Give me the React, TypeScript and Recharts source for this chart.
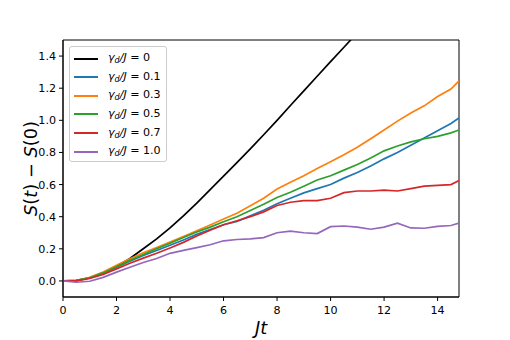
import React from "react";
import { LineChart, Line, XAxis, YAxis, ReferenceArea, Label } from "recharts";

const times = [0, 0.5, 1, 1.5, 2, 2.5, 3, 3.5, 4, 4.5, 5, 5.5, 6, 6.5, 7, 7.5, 8, 8.5, 9, 9.5, 10, 10.5, 11, 11.5, 12, 12.5, 13, 13.5, 14, 14.5, 14.8];

const gamma0 = [0, 0.003, 0.02, 0.05, 0.09, 0.14, 0.2, 0.262, 0.33, 0.405, 0.485, 0.568, 0.652, 0.737, 0.822, 0.91, 1.0, 1.092, 1.183, 1.274, 1.365, 1.455, 1.545, 1.635, null, null, null, null, null, null, null];
const gamma01 = [0, 0.002, 0.018, 0.048, 0.085, 0.122, 0.158, 0.19, 0.222, 0.255, 0.29, 0.32, 0.35, 0.37, 0.405, 0.44, 0.48, 0.515, 0.548, 0.575, 0.6, 0.64, 0.675, 0.715, 0.76, 0.8, 0.845, 0.89, 0.935, 0.98, 1.015];
const gamma03 = [0, 0.002, 0.022, 0.055, 0.098, 0.138, 0.175, 0.208, 0.242, 0.276, 0.312, 0.348, 0.385, 0.422, 0.468, 0.515, 0.572, 0.615, 0.655, 0.7, 0.742, 0.785, 0.832, 0.885, 0.94, 0.995, 1.045, 1.09, 1.148, 1.195, 1.245];
const gamma05 = [0, 0.002, 0.02, 0.05, 0.088, 0.128, 0.165, 0.2, 0.235, 0.27, 0.305, 0.335, 0.368, 0.4, 0.438, 0.478, 0.52, 0.552, 0.59, 0.628, 0.655, 0.69, 0.725, 0.765, 0.81, 0.84, 0.866, 0.885, 0.9, 0.922, 0.94];
const gamma07 = [0, 0.0, 0.015, 0.04, 0.075, 0.11, 0.142, 0.172, 0.205, 0.24, 0.28, 0.315, 0.35, 0.375, 0.4, 0.43, 0.47, 0.49, 0.5, 0.5, 0.515, 0.55, 0.56, 0.56, 0.565, 0.56, 0.575, 0.59, 0.595, 0.6, 0.625];
const gamma10 = [0, -0.008, -0.002, 0.022, 0.055, 0.085, 0.115, 0.14, 0.172, 0.19, 0.207, 0.225, 0.25, 0.258, 0.262, 0.27, 0.3, 0.31, 0.3, 0.295, 0.338, 0.342, 0.335, 0.322, 0.335, 0.36, 0.33, 0.328, 0.34, 0.345, 0.36];

const xTicks = [0, 2, 4, 6, 8, 10, 12, 14];
const yTicks = [0, 0.2, 0.4, 0.6, 0.8, 1.0, 1.2, 1.4];

const seriesKeys = ["g0", "g01", "g03", "g05", "g07", "g10"];
const seriesValues = [gamma0, gamma01, gamma03, gamma05, gamma07, gamma10];
const seriesLabels = ["0", "0.1", "0.3", "0.5", "0.7", "1.0"];
const seriesColors = ["#000000", "#1f77b4", "#ff7f0e", "#2ca02c", "#d62728", "#9467bd"];

const rows = times.map((t, i) => {
  const r: any = { t };
  seriesKeys.forEach((k, j) => {
    r[k] = seriesValues[j][i];
  });
  return r;
});

const FONT = "DejaVu Sans";

function LegendBox() {
  return (
    <div
      style={{
        position: "absolute",
        left: 69,
        top: 46,
        width: 98,
        height: 116,
        border: "1px solid #cccccc",
        borderRadius: 3,
        background: "rgba(255,255,255,0.8)",
        boxSizing: "border-box",
        fontFamily: FONT,
        fontSize: 11.1,
        color: "#000",
      }}
    >
      {seriesLabels.map((lab, i) => (
        <div
          key={lab}
          style={{
            position: "absolute",
            left: 0,
            top: 2.5 + i * 18.65,
            height: 18,
            display: "flex",
            alignItems: "center",
            whiteSpace: "nowrap",
          }}
        >
          <div
            style={{
              marginLeft: 4,
              width: 24,
              height: 2,
              background: seriesColors[i],
              flex: "none",
            }}
          />
          <span style={{ marginLeft: 10, lineHeight: "18px" }}>
            <i>γ</i>
            <span style={{ fontSize: 8, fontStyle: "italic", position: "relative", top: 2 }}>d</span>
            <i>/J</i>
            {" = " + lab}
          </span>
        </div>
      ))}
    </div>
  );
}

export default function App() {
  return (
    <div style={{ position: "absolute", left: 0, top: 0, width: 510, height: 340, background: "#fff" }}>
      <LineChart width={510} height={340} data={rows} margin={{ top: 40, right: 51, bottom: 13, left: 23 }}>
        <XAxis
          dataKey="t"
          type="number"
          domain={[0, 14.8]}
          ticks={xTicks}
          allowDataOverflow
          height={30}
          tickSize={4}
          tickMargin={5}
          stroke="#000"
          tick={{ fill: "#000", fontSize: 11.1, fontFamily: FONT }}
          tickLine={{ stroke: "#000" }}
          axisLine={{ stroke: "#000" }}
        >
          <Label
            content={() => (
              <text x={261} y={334} textAnchor="middle" fontSize={17.8} fontFamily={FONT} fontStyle="italic" fill="#000">
                Jt
              </text>
            )}
          />
        </XAxis>
        <YAxis
          type="number"
          domain={[-0.1, 1.5]}
          ticks={yTicks}
          allowDataOverflow
          width={40}
          tickSize={4}
          tickMargin={3}
          stroke="#000"
          tickFormatter={(v: number) => v.toFixed(1)}
          tick={{ fill: "#000", fontSize: 11.1, fontFamily: FONT }}
          tickLine={{ stroke: "#000" }}
          axisLine={{ stroke: "#000" }}
        >
          <Label
            content={() => (
              <text
                x={37}
                y={168.5}
                transform="rotate(-90, 37, 168.5)"
                textAnchor="middle"
                fontSize={17.8}
                fontFamily={FONT}
                fill="#000"
              >
                <tspan fontStyle="italic">S</tspan>
                <tspan>(</tspan>
                <tspan fontStyle="italic">t</tspan>
                <tspan>) − </tspan>
                <tspan fontStyle="italic">S</tspan>
                <tspan>(0)</tspan>
              </text>
            )}
          />
        </YAxis>
        <ReferenceArea x1={0} x2={14.8} y1={-0.1} y2={1.5} stroke="#000" strokeWidth={1} fill="none" fillOpacity={0} ifOverflow="visible" />
        {seriesKeys.map((k, i) => (
          <Line
            key={k}
            dataKey={k}
            stroke={seriesColors[i]}
            strokeWidth={1.7}
            dot={false}
            activeDot={false}
            type="linear"
            isAnimationActive={false}
            connectNulls={false}
          />
        ))}
      </LineChart>
      <LegendBox />
    </div>
  );
}
